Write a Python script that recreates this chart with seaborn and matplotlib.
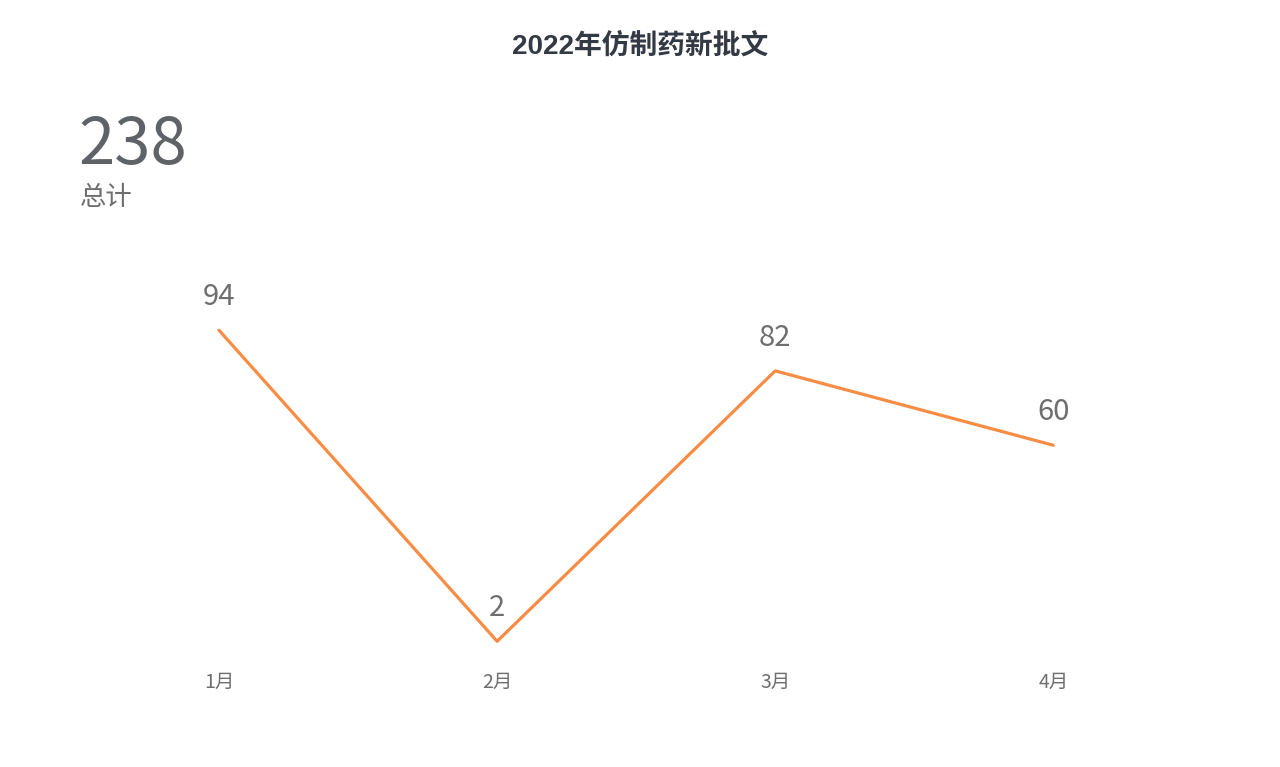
import matplotlib
matplotlib.use("Agg")
import matplotlib.pyplot as plt
import seaborn as sns
import pandas as pd

months = ["1月", "2月", "3月", "4月"]
approvals = [94, 2, 82, 60]
total = 238
title = "2022年仿制药新批文"

sns.set_theme(style="white")
plt.rcParams['font.family'] = ['Noto Sans CJK SC', 'DejaVu Sans']

df = pd.DataFrame({"month": months, "value": approvals})
df["pos"] = range(len(months))

fig = plt.figure(figsize=(12.8, 7.67), dpi=100)
ax = fig.add_axes([0.0625, 0.1551, 0.869, 0.4407])

sns.lineplot(data=df, x="pos", y="value", ax=ax, color="#F78D45", linewidth=2.3)

for p, v in zip(df["pos"], df["value"]):
    ax.annotate(str(v), (p, v), xytext=(0, 24), textcoords="offset points",
                ha="center", va="center", fontsize=21, color="#6e6e6e",
                fontweight="light")

ax.set_xlim(-0.5, 3.5)
ax.set_ylim(0, 100)
ax.set_xticks(df["pos"])
ax.set_xticklabels(months, fontsize=14, color="#6e6e6e")
ax.tick_params(axis="x", length=0, pad=17)
ax.set_yticks([])
ax.set_xlabel("")
ax.set_ylabel("")
sns.despine(ax=ax, left=True, bottom=True)

fig.text(0.5, 0.938, title, ha="center", va="center", fontsize=20,
         fontweight="bold", color="#333a44",
         family=['Liberation Sans', 'Noto Sans CJK SC'])
fig.text(0.061, 0.81, str(total), ha="left", va="center", fontsize=47,
         color="#5f6368", fontweight="light")
fig.text(0.062, 0.743, "总计", ha="left", va="center", fontsize=19,
         color="#6e6e6e", fontweight="light")

fig.savefig("out.png", dpi=100)
